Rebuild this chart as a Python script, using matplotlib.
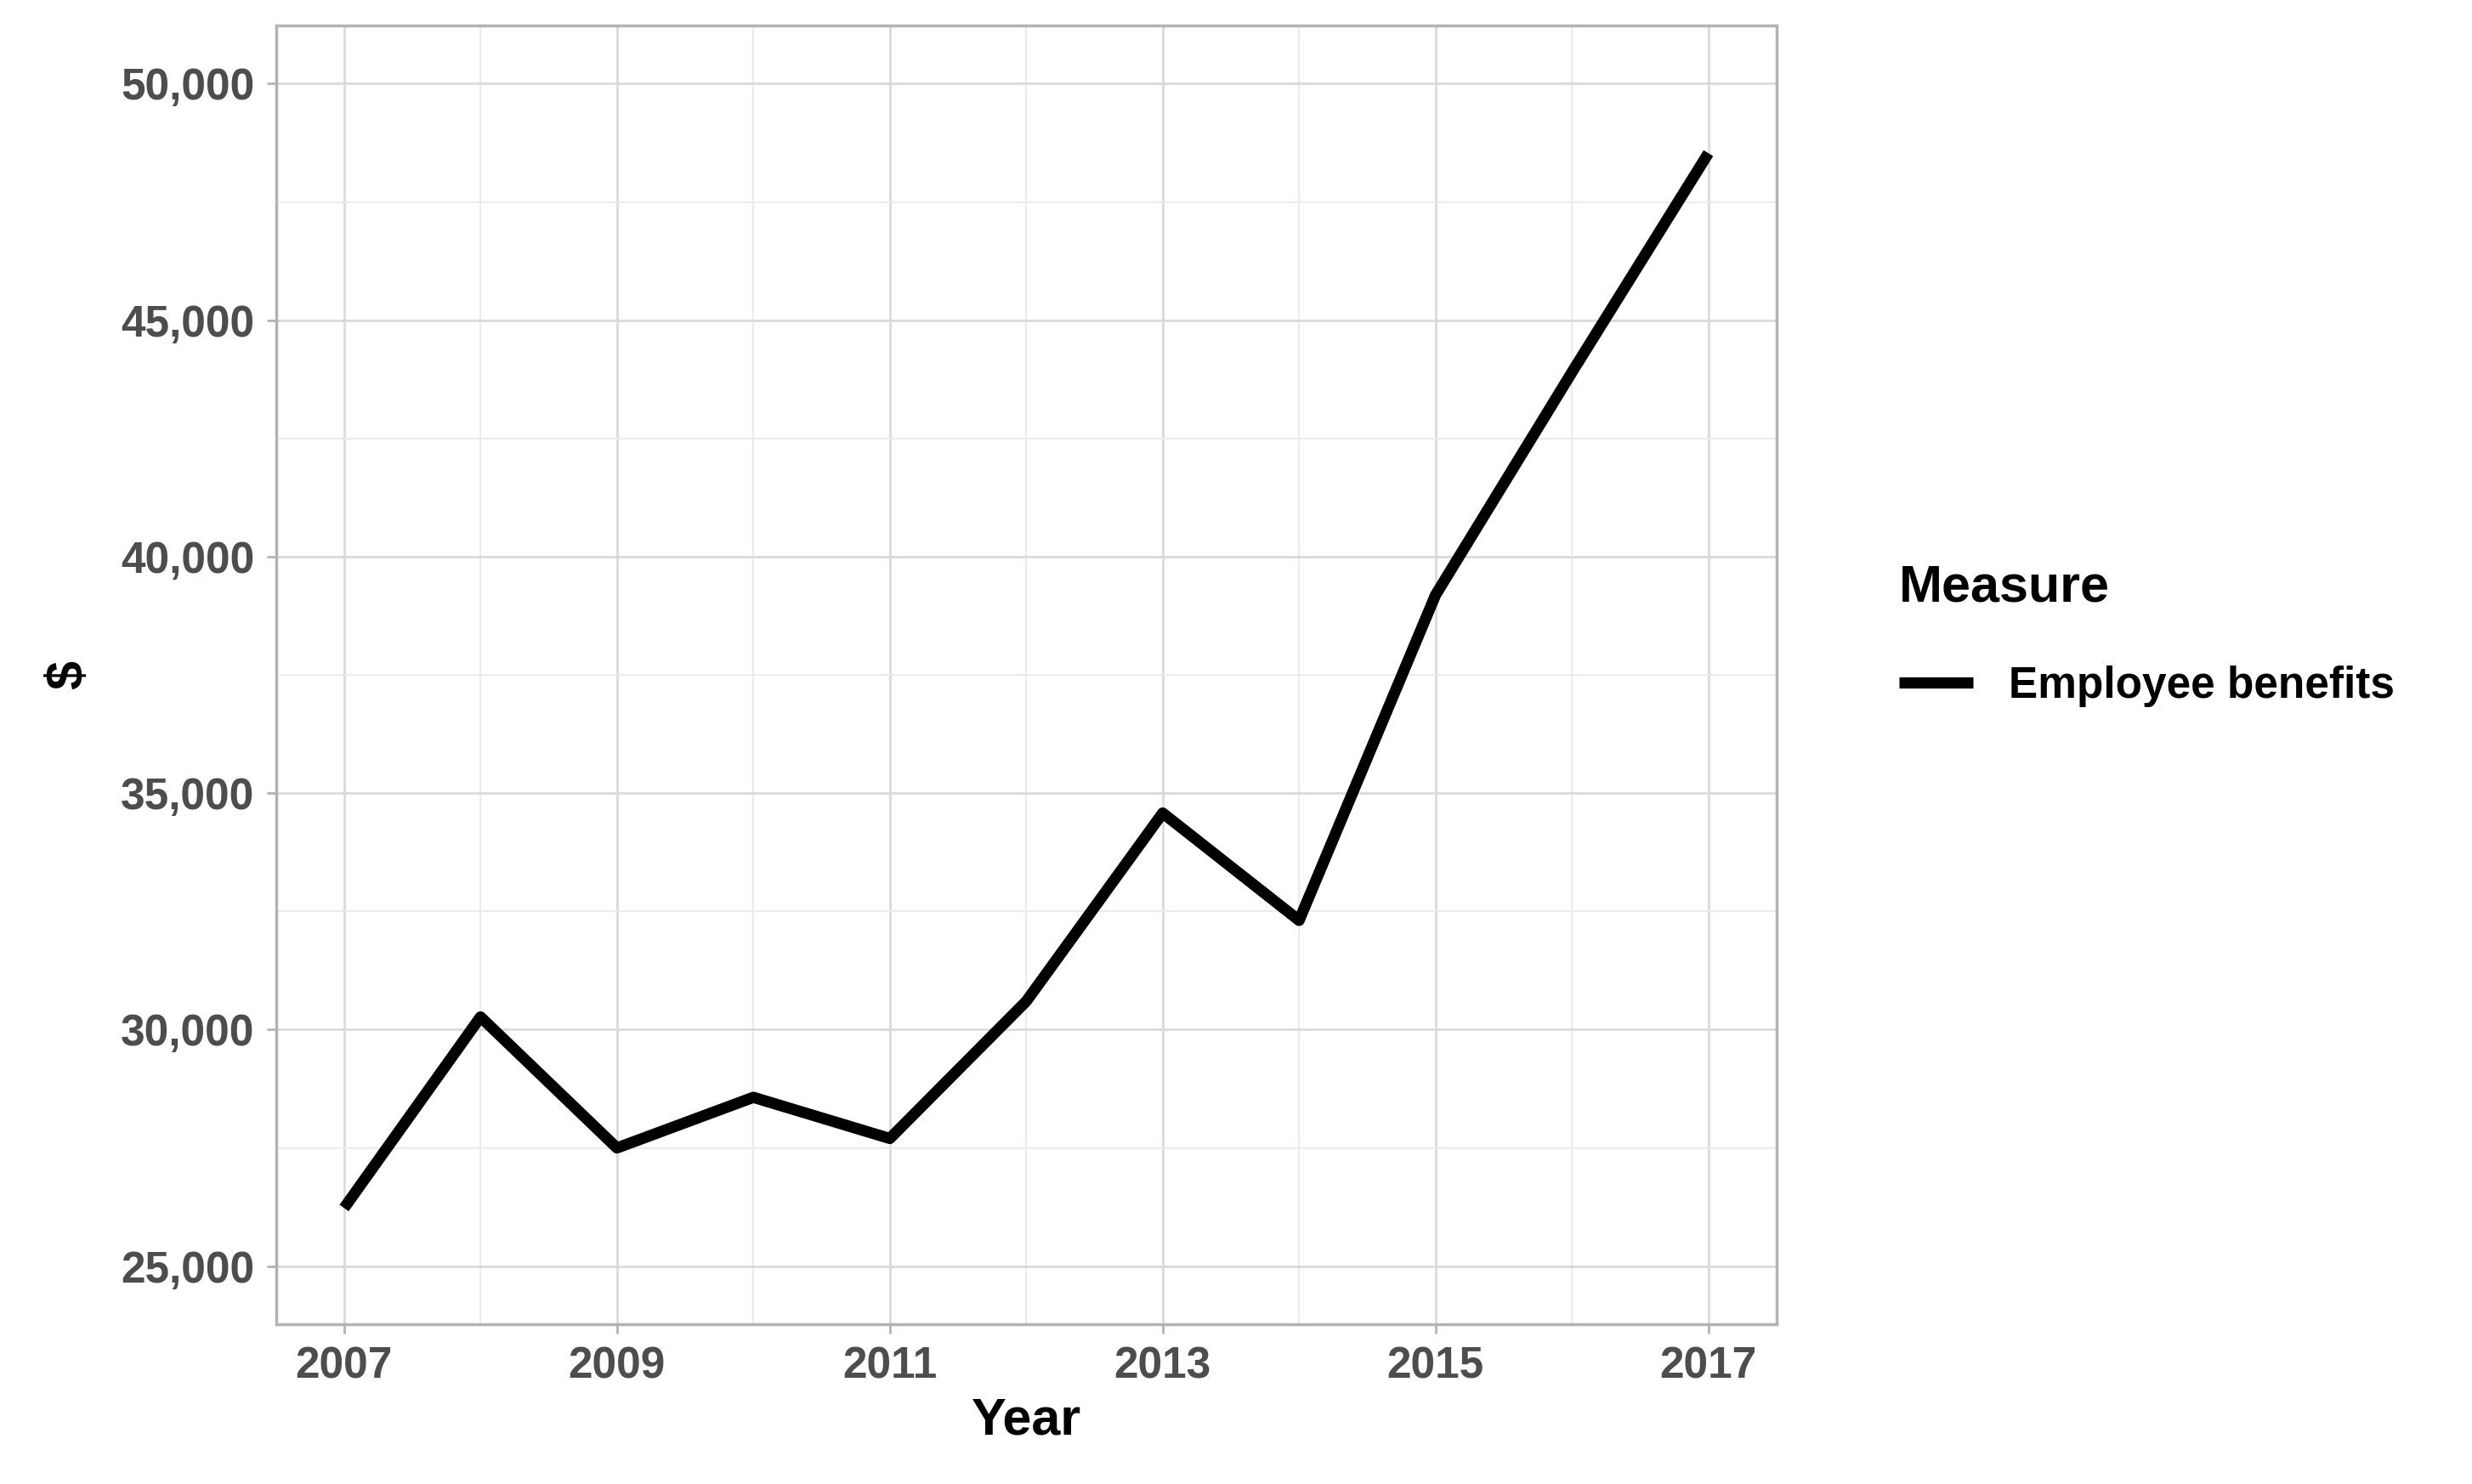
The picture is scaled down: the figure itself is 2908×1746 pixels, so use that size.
import matplotlib
matplotlib.use("Agg")
import matplotlib.pyplot as plt
from matplotlib.ticker import FuncFormatter, FixedLocator, MultipleLocator

plt.rcParams["font.family"] = ["Liberation Sans", "DejaVu Sans"]
plt.rcParams["font.weight"] = "bold"

years = [2007, 2008, 2009, 2010, 2011, 2012, 2013, 2014, 2015, 2016, 2017]
benefits = [26230, 30270, 27500, 28570, 27700, 30600, 34580, 32310, 39190, 43900, 48530]
series_name = "Employee benefits"

fig = plt.figure(figsize=(29.08, 17.46), dpi=100)
ax = fig.add_axes([0.1116, 0.1074, 0.6071, 0.8756])

ax.plot(years, benefits, color="black", lw=9.5, label=series_name, solid_capstyle="butt")

ax.set_xlim(2006.5, 2017.5)
ax.set_ylim(23765, 51235)
ax.xaxis.set_major_locator(FixedLocator(years[::2]))
ax.xaxis.set_minor_locator(FixedLocator(years[1::2]))
ax.yaxis.set_major_locator(MultipleLocator(5000))
ax.yaxis.set_minor_locator(MultipleLocator(2500))
ax.yaxis.set_major_formatter(FuncFormatter(lambda v, p: f"{int(v):,}"))

ax.grid(which="major", color="#DADADA", lw=2)
ax.grid(which="minor", color="#EBEBEB", lw=1.5)
ax.set_axisbelow(True)
for s in ax.spines.values():
    s.set_color("#B3B3B3")
    s.set_linewidth(2.5)

ax.tick_params(which="both", length=0)
ax.tick_params(which="major", length=8, width=2, color="#B3B3B3")
ax.tick_params(labelsize=37, labelcolor="#4D4D4D", pad=10)
for lab in ax.get_xticklabels() + ax.get_yticklabels():
    lab.set_fontweight("bold")

ax.set_xlabel("Year", fontsize=44, fontweight="bold", labelpad=8)
ax.set_ylabel("$", fontsize=44, fontweight="bold", labelpad=24)

leg = ax.legend(loc="center left", bbox_to_anchor=(1.07, 0.53), frameon=False,
                title="Measure", fontsize=37, title_fontsize=44,
                handlelength=1.7, handletextpad=0.8, borderaxespad=0)
leg.get_title().set_fontweight("bold")
leg._legend_box.align = "left"
leg._legend_box.sep = 45
for t in leg.get_texts():
    t.set_fontweight("bold")

fig.savefig("out.png", dpi=100, facecolor="white")
